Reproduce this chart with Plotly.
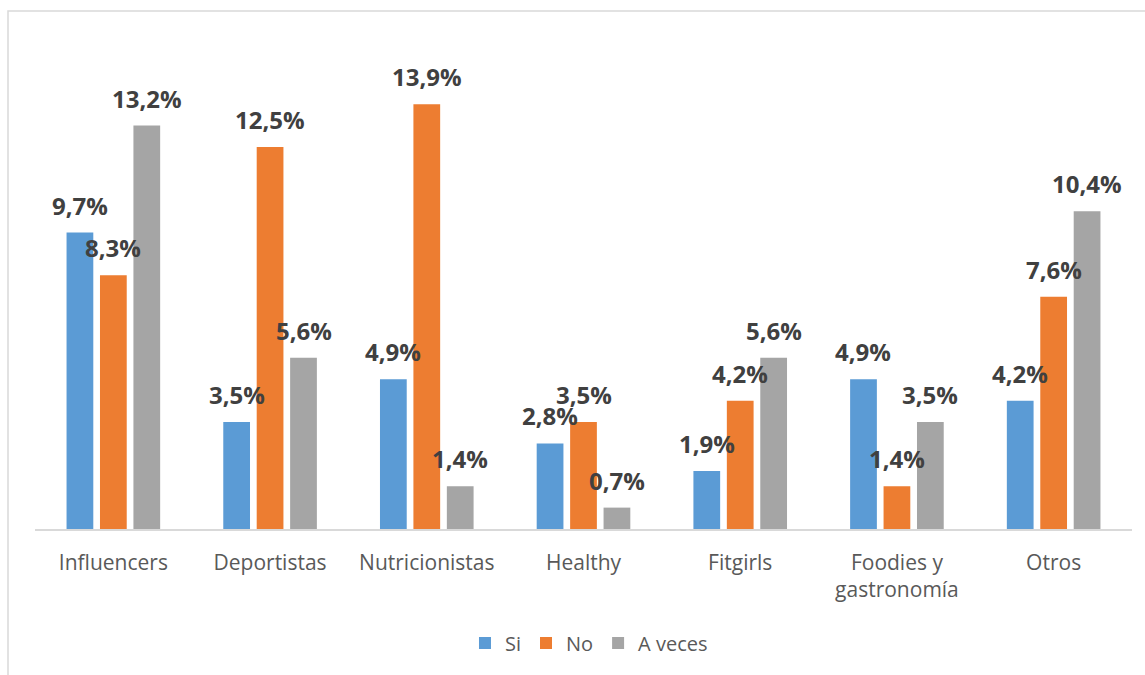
import plotly.graph_objects as go

# Survey categories and answer shares (%)
categories = ["Influencers", "Deportistas", "Nutricionistas", "Healthy",
              "Fitgirls", "Foodies y<br>gastronomía", "Otros"]
si = [9.7, 3.5, 4.9, 2.8, 1.9, 4.9, 4.2]
no = [8.3, 12.5, 13.9, 3.5, 4.2, 1.4, 7.6]
a_veces = [13.2, 5.6, 1.4, 0.7, 5.6, 3.5, 10.4]

series_names = ["Si", "No", "A veces"]
series_values = [si, no, a_veces]
series_colors = ["#5B9BD5", "#ED7D31", "#A5A5A5"]

W, H = 1145, 675
M_L, M_R, M_T, M_B = 35, 13, 40, 146
BARGAP = 0.36
BARGROUPGAP = 0.2

fig = go.Figure()
for name, vals, color in zip(series_names, series_values, series_colors):
    fig.add_trace(go.Bar(
        name=name, x=categories, y=vals,
        marker=dict(color=color, line=dict(width=0)),
        hoverinfo="x+y+name",
    ))

# Value labels: one per bar, shifted horizontally to the bar's slot in its group
plot_w = W - M_L - M_R
cat_px = plot_w / len(categories)
slot_px = cat_px * (1 - BARGAP) / len(series_names)
annotations = []
for si_idx, vals in enumerate(series_values):
    shift = (si_idx - (len(series_names) - 1) / 2) * slot_px
    for cat, v in zip(categories, vals):
        annotations.append(dict(
            x=cat, y=v, xref="x", yref="y",
            text=f"{v:.1f}%".replace(".", ","),
            showarrow=False, xanchor="center", yanchor="bottom",
            xshift=shift, yshift=9,
            font=dict(family="Open Sans", size=24, color="#404040", weight="bold"),
        ))

fig.update_layout(
    width=W, height=H,
    margin=dict(l=M_L, r=M_R, t=M_T, b=M_B),
    paper_bgcolor="white", plot_bgcolor="white",
    barmode="group", bargap=BARGAP, bargroupgap=BARGROUPGAP,
    font=dict(family="Open Sans", size=20, color="#595959"),
    xaxis=dict(
        showline=True, linecolor="#D9D9D9", linewidth=1.5,
        ticks="", showgrid=False, ticklabelstandoff=14,
        tickfont=dict(family="Open Sans", size=21, color="#595959"),
    ),
    yaxis=dict(range=[0, 16], visible=False, showgrid=False),
    showlegend=True,
    legend=dict(
        orientation="h", x=0.505, xanchor="center",
        yref="container", y=1 - 643 / H, yanchor="middle",
        font=dict(family="Open Sans", size=20, color="#595959"),
        itemwidth=30, tracegroupgap=0,
    ),
    annotations=annotations,
    shapes=[dict(
        type="rect", xref="paper", yref="paper",
        x0=(8 - M_L) / plot_w, x1=(W + 10 - M_L) / plot_w,
        y0=-(H + 10 - (H - M_B)) / (H - M_T - M_B), y1=1 + (M_T - 11) / (H - M_T - M_B),
        line=dict(color="#D9D9D9", width=1.5), fillcolor="rgba(0,0,0,0)",
        layer="below",
    )],
)

fig.write_html("out.html")
